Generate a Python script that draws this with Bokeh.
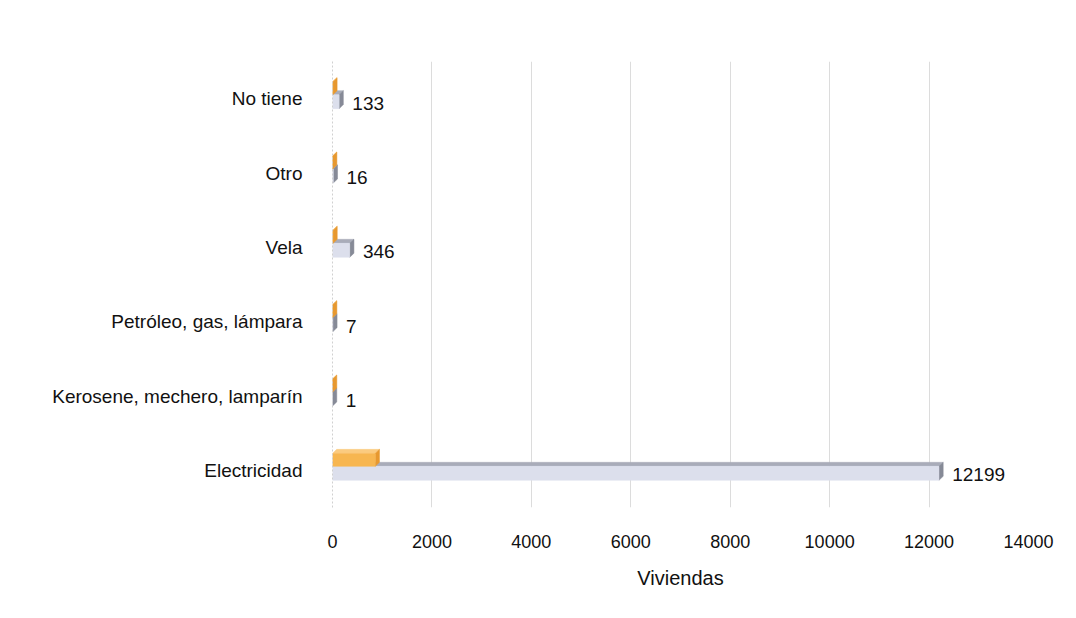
from bokeh.plotting import figure
from bokeh.models import ColumnDataSource, FixedTicker, Range1d
from bokeh.core.properties import value
from bokeh.embed import file_html
from bokeh.resources import INLINE

# ---- data (bottom to top) ----
categories = ["Electricidad", "Kerosene, mechero, lamparín", "Petróleo, gas, lámpara",
              "Vela", "Otro", "No tiene"]
viviendas = [12199, 1, 7, 346, 16, 133]
serie_naranja = [860, 2, 3, 10, 3, 8]
x_ticks = [0, 2000, 4000, 6000, 8000, 10000, 12000, 14000]

FONT = "Liberation Sans"
DX = 85.0      # 3D depth along x (data units)
DY = 0.054     # 3D depth along y (category units)

p = figure(width=1076, height=618, output_backend="svg", toolbar_location=None,
           x_range=Range1d(0, 14000), y_range=Range1d(-0.5, 5.5),
           min_border_left=332, min_border_right=48, min_border_top=61,
           min_border_bottom=111)
p.outline_line_color = None
p.background_fill_color = "white"
p.border_fill_color = "white"

# grid
p.ygrid.grid_line_color = None
p.xgrid.ticker = FixedTicker(ticks=x_ticks)
p.xgrid.grid_line_color = "#DCDCDC"
p.xgrid.grid_line_width = 1


def bar3d(vals, y_bot, y_top, front, top, side):
    fx, fy, tx, ty, sx, sy = [], [], [], [], [], []
    for i, v in enumerate(vals):
        b, t = i + y_bot, i + y_top
        fx.append([0, v, v, 0]); fy.append([b, b, t, t])
        tx.append([0, v, v + DX, DX]); ty.append([t, t, t + DY, t + DY])
        sx.append([v, v + DX, v + DX, v]); sy.append([b, b + DY, t + DY, t])
    p.patches(tx, ty, fill_color=top, line_color=top, line_width=0.5)
    p.patches(sx, sy, fill_color=side, line_color=side, line_width=0.5)
    p.patches(fx, fy, fill_color=front, line_color=front, line_width=0.5)


# gray series first (front-lower), then orange (upper, drawn over gray top face)
bar3d(viviendas, -0.134, 0.054, "#DCDFEC", "#A9ACB9", "#868A97")
bar3d(serie_naranja, 0.054, 0.228, "#F7B650", "#FBCB80", "#E7982F")

# value labels
src = ColumnDataSource(dict(x=[v + DX for v in viviendas],
                            y=[i - 0.06 for i in range(len(viviendas))],
                            t=[str(v) for v in viviendas]))
p.text(x="x", y="y", text="t", source=src, x_offset=9,
       text_font=value(FONT), text_font_size="19px", text_color="#111111",
       text_baseline="middle", text_align="left")

# axes
p.yaxis.ticker = FixedTicker(ticks=list(range(len(categories))))
p.yaxis.major_label_overrides = {i: c for i, c in enumerate(categories)}
p.yaxis.axis_line_color = "#D0D0D0"
p.yaxis.axis_line_dash = "2 2"
p.yaxis.major_tick_line_color = None
p.yaxis.minor_tick_line_color = None
p.yaxis.major_label_standoff = 24
p.yaxis.major_label_text_font = FONT
p.yaxis.major_label_text_font_size = "19px"
p.yaxis.major_label_text_color = "#111111"

p.xaxis.ticker = FixedTicker(ticks=x_ticks)
p.xaxis.axis_line_color = None
p.xaxis.major_tick_line_color = None
p.xaxis.minor_tick_line_color = None
p.xaxis.major_label_standoff = 21
p.xaxis.major_label_text_font = FONT
p.xaxis.major_label_text_font_size = "18px"
p.xaxis.major_label_text_color = "#111111"
p.xaxis.axis_label = "Viviendas"
p.xaxis.axis_label_text_font = FONT
p.xaxis.axis_label_text_font_size = "20px"
p.xaxis.axis_label_text_font_style = "normal"
p.xaxis.axis_label_text_color = "#111111"
p.xaxis.axis_label_standoff = 16

open("out.html", "w").write(file_html(p, INLINE))
